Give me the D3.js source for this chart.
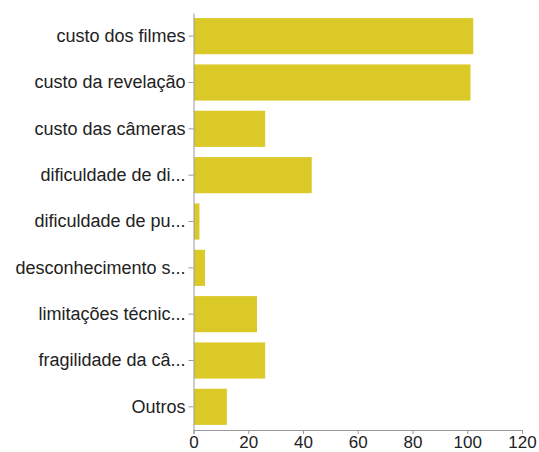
<!DOCTYPE html>
<html>
<head>
<meta charset="utf-8">
<script src="https://cdn.jsdelivr.net/npm/d3@7"></script>
<style>
  html, body { margin: 0; padding: 0; background: #fff; }
  svg { display: block; }
  .axis text { font-family: "Liberation Sans", Arial, Helvetica, sans-serif; fill: #222; }
  .axis path, .axis line { stroke: #9a9a9a; }
</style>
</head>
<body>
<svg id="chart" width="539" height="452"></svg>
<script>
// Reasons given, and how many people chose each
const categories = [
  "custo dos filmes",
  "custo da revelação",
  "custo das câmeras",
  "dificuldade de di...",
  "dificuldade de pu...",
  "desconhecimento s...",
  "limitações técnic...",
  "fragilidade da câ...",
  "Outros"
];
const counts = [102, 101, 26, 43, 2, 4, 23, 26, 12];
const xTicks = [0, 20, 40, 60, 80, 100, 120];

const svg = d3.select("#chart");
const margin = { top: 13, right: 17, bottom: 22, left: 193.5 };
const width = 539 - margin.left - margin.right;
const height = 452 - margin.top - margin.bottom;

const g = svg.append("g").attr("transform", `translate(${margin.left},${margin.top})`);

const x = d3.scaleLinear().domain([0, 120]).range([0, width]);
const y = d3.scaleBand().domain(categories).range([0, height]).paddingInner(0.22).paddingOuter(0.11);

g.selectAll("rect.bar")
  .data(categories)
  .join("rect")
  .attr("class", "bar")
  .attr("x", 0.5)
  .attr("y", d => y(d))
  .attr("width", (d, i) => x(counts[i]))
  .attr("height", y.bandwidth())
  .attr("fill", "#dac926");

const yAxis = g.append("g")
  .attr("class", "axis")
  .call(d3.axisLeft(y).tickSize(5).tickPadding(3).tickSizeOuter(0));
yAxis.selectAll("text").style("font-size", "18px");

const xAxis = g.append("g")
  .attr("class", "axis")
  .attr("transform", `translate(0,${height})`)
  .call(d3.axisBottom(x).tickValues(xTicks).tickSize(4).tickPadding(2).tickSizeOuter(4));
xAxis.selectAll("text").style("font-size", "17px");
</script>
</body>
</html>
